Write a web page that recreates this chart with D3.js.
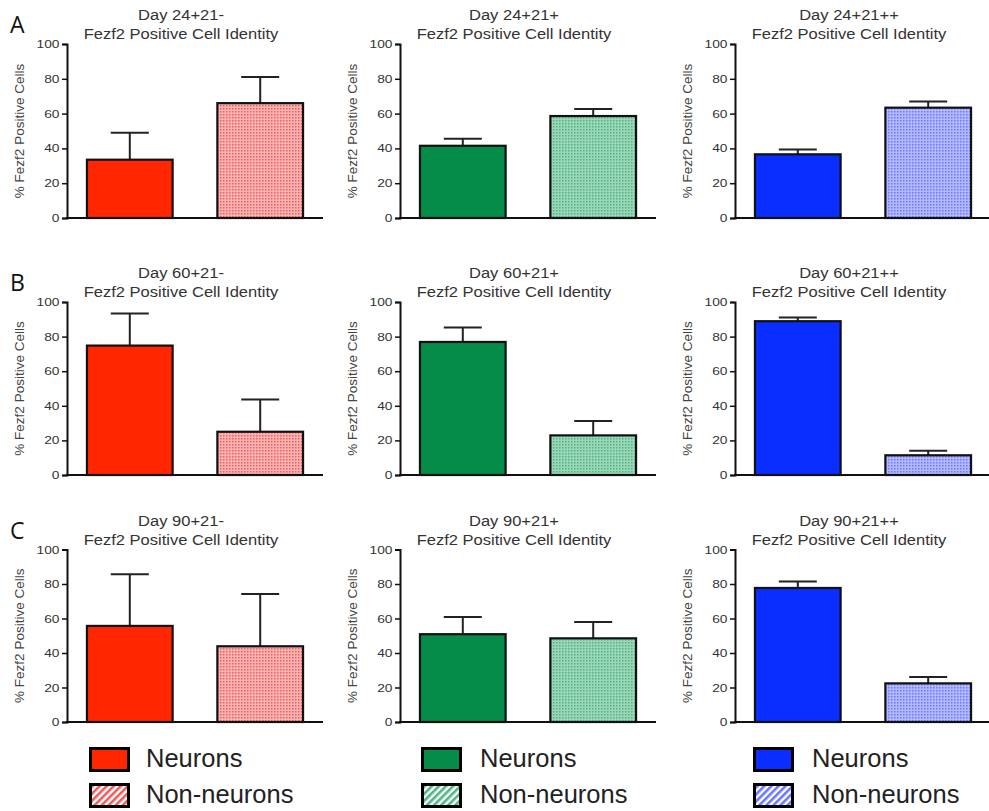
<!DOCTYPE html>
<html>
<head>
<meta charset="utf-8">
<script src="https://cdn.jsdelivr.net/npm/d3@7/dist/d3.min.js"></script>
<style>
  html, body { margin: 0; padding: 0; background: #fff; }
  svg { display: block; font-family: "Liberation Sans", Arial, sans-serif; }
</style>
</head>
<body>
<svg id="chart" width="989" height="811"></svg>
<script>
// ---- data ----
const rowLetters = ["A", "B", "C"];
const days = ["24", "60", "90"];
const conditions = ["-", "+", "++"];
const groups = ["Neurons", "Non-neurons"];
const yTicks = [0, 20, 40, 60, 80, 100];

// rows = day, cols = condition
const neuronMean = [[33.5, 41.5, 36.6], [74.8, 76.9, 88.9], [55.7, 50.9, 77.7]];
const neuronErr  = [[15.5, 4.1, 2.8],   [18.5, 8.3, 2.1],   [30.0, 10.0, 3.7]];
const nonMean    = [[66.0, 58.6, 63.4], [25.0, 22.9, 11.4], [43.9, 48.5, 22.4]];
const nonErr     = [[15.0, 4.0, 3.6],   [18.7, 8.3, 2.6],   [30.3, 9.5, 3.7]];

const solidColors = ["#ff2600", "#048c48", "#0a2eff"];
const lightColors = ["#fbb4b4", "#9cd6b8", "#b4baff"];
const dotColors   = ["#ee5c5c", "#4fb585", "#6a76ff"];

// ---- layout ----
const svg = d3.select("#chart");
const axisX = [67, 400, 735];
const plotW = 256;
const rowTop = [44, 302, 549.5];
const rowBottom = [218, 475, 722];
const textStretch = 1.14; // the source figure is a bit wide

const defs = svg.append("defs");
solidColors.forEach((c, i) => {
  // fine dotted fill for the bars
  const p = defs.append("pattern").attr("id", "dots" + i)
    .attr("patternUnits", "userSpaceOnUse").attr("width", 3).attr("height", 3);
  p.append("rect").attr("width", 3).attr("height", 3).attr("fill", lightColors[i]);
  p.append("rect").attr("width", 1.5).attr("height", 1.5).attr("fill", dotColors[i]);
  // diagonal stripes for the legend swatch
  const s = defs.append("pattern").attr("id", "stripes" + i)
    .attr("patternUnits", "userSpaceOnUse").attr("width", 5).attr("height", 5)
    .attr("patternTransform", "rotate(45)");
  s.append("rect").attr("width", 5).attr("height", 5).attr("fill", "#fff");
  s.append("rect").attr("width", 2.6).attr("height", 5).attr("fill", dotColors[i]);
});

const x = d3.scaleBand().domain(groups).range([0, plotW])
  .paddingInner(0.343).paddingOuter(0.153);

rowLetters.forEach((letter, r) => {
  svg.append("text")
    .attr("x", 10).attr("y", rowTop[r] - 11)
    .attr("font-family", "'Open Sans', sans-serif")
    .attr("font-size", 23).attr("fill", "#111")
    .text(letter);

  conditions.forEach((cond, c) => {
    const y = d3.scaleLinear().domain([0, 100]).range([rowBottom[r], rowTop[r]]);
    const g = svg.append("g").attr("transform", `translate(${axisX[c]},0)`);

    // title
    const tx = 114;
    g.append("text")
      .attr("transform", `translate(${tx},${rowTop[r] - 24}) scale(${textStretch},1)`)
      .attr("text-anchor", "middle").attr("font-size", 14.5).attr("fill", "#333")
      .text(`Day ${days[r]}+21${cond}`);
    g.append("text")
      .attr("transform", `translate(${tx},${rowTop[r] - 5}) scale(${textStretch},1)`)
      .attr("text-anchor", "middle").attr("font-size", 14.5).attr("fill", "#333")
      .text("Fezf2 Positive Cell Identity");

    // y axis label
    g.append("text")
      .attr("transform", `translate(${-43},${(rowTop[r] + rowBottom[r]) / 2}) rotate(-90)`)
      .attr("text-anchor", "middle").attr("font-size", 13.5).attr("fill", "#444")
      .text("% Fezf2 Positive Cells");

    const rows = [
      { k: groups[0], v: neuronMean[r][c], e: neuronErr[r][c], fill: solidColors[c] },
      { k: groups[1], v: nonMean[r][c], e: nonErr[r][c], fill: `url(#dots${c})` }
    ];

    // error bars (upper only)
    rows.forEach(d => {
      const cx = x(d.k) + x.bandwidth() / 2;
      g.append("line").attr("x1", cx).attr("x2", cx)
        .attr("y1", y(d.v)).attr("y2", y(d.v + d.e))
        .attr("stroke", "#222").attr("stroke-width", 2);
      g.append("line").attr("x1", cx - 19).attr("x2", cx + 19)
        .attr("y1", y(d.v + d.e)).attr("y2", y(d.v + d.e))
        .attr("stroke", "#222").attr("stroke-width", 2);
    });

    g.selectAll("rect.bar").data(rows).enter().append("rect")
      .attr("class", "bar")
      .attr("x", d => x(d.k))
      .attr("y", d => y(d.v))
      .attr("width", x.bandwidth())
      .attr("height", d => y(0) - y(d.v))
      .attr("fill", d => d.fill)
      .attr("stroke", "#111").attr("stroke-width", 2.2);

    // axes
    const ya = g.append("g")
      .attr("font-family", "'Liberation Sans', Arial, sans-serif")
      .call(d3.axisLeft(y).tickValues(yTicks).tickSize(5).tickPadding(1));
    ya.select(".domain").attr("stroke", "#111").attr("stroke-width", 2);
    ya.selectAll(".tick line").attr("stroke", "#111").attr("stroke-width", 1.5);
    ya.selectAll(".tick text")
      .attr("font-size", 11).attr("fill", "#333")
      .attr("transform", "scale(1.25,1)");

    g.append("line").attr("x1", -1).attr("x2", Math.min(plotW, 989 - axisX[c]))
      .attr("y1", y(0)).attr("y2", y(0))
      .attr("stroke", "#111").attr("stroke-width", 2);
  });
});

// ---- legends ----
const legX = [89, 421, 753];
const legTextX = [146, 480, 812];
solidColors.forEach((c, i) => {
  const lg = svg.append("g");
  [
    { label: groups[0], fill: c, y: 747 },
    { label: groups[1], fill: `url(#stripes${i})`, y: 783 }
  ].forEach(d => {
    lg.append("rect").attr("x", legX[i] + 1.5).attr("y", d.y + 1.5)
      .attr("width", 38).attr("height", 22)
      .attr("fill", d.fill).attr("stroke", "#000").attr("stroke-width", 3);
    lg.append("text").attr("x", legTextX[i]).attr("y", d.y + 20)
      .attr("font-size", 25.5).attr("fill", "#222").text(d.label);
  });
});
</script>
</body>
</html>
